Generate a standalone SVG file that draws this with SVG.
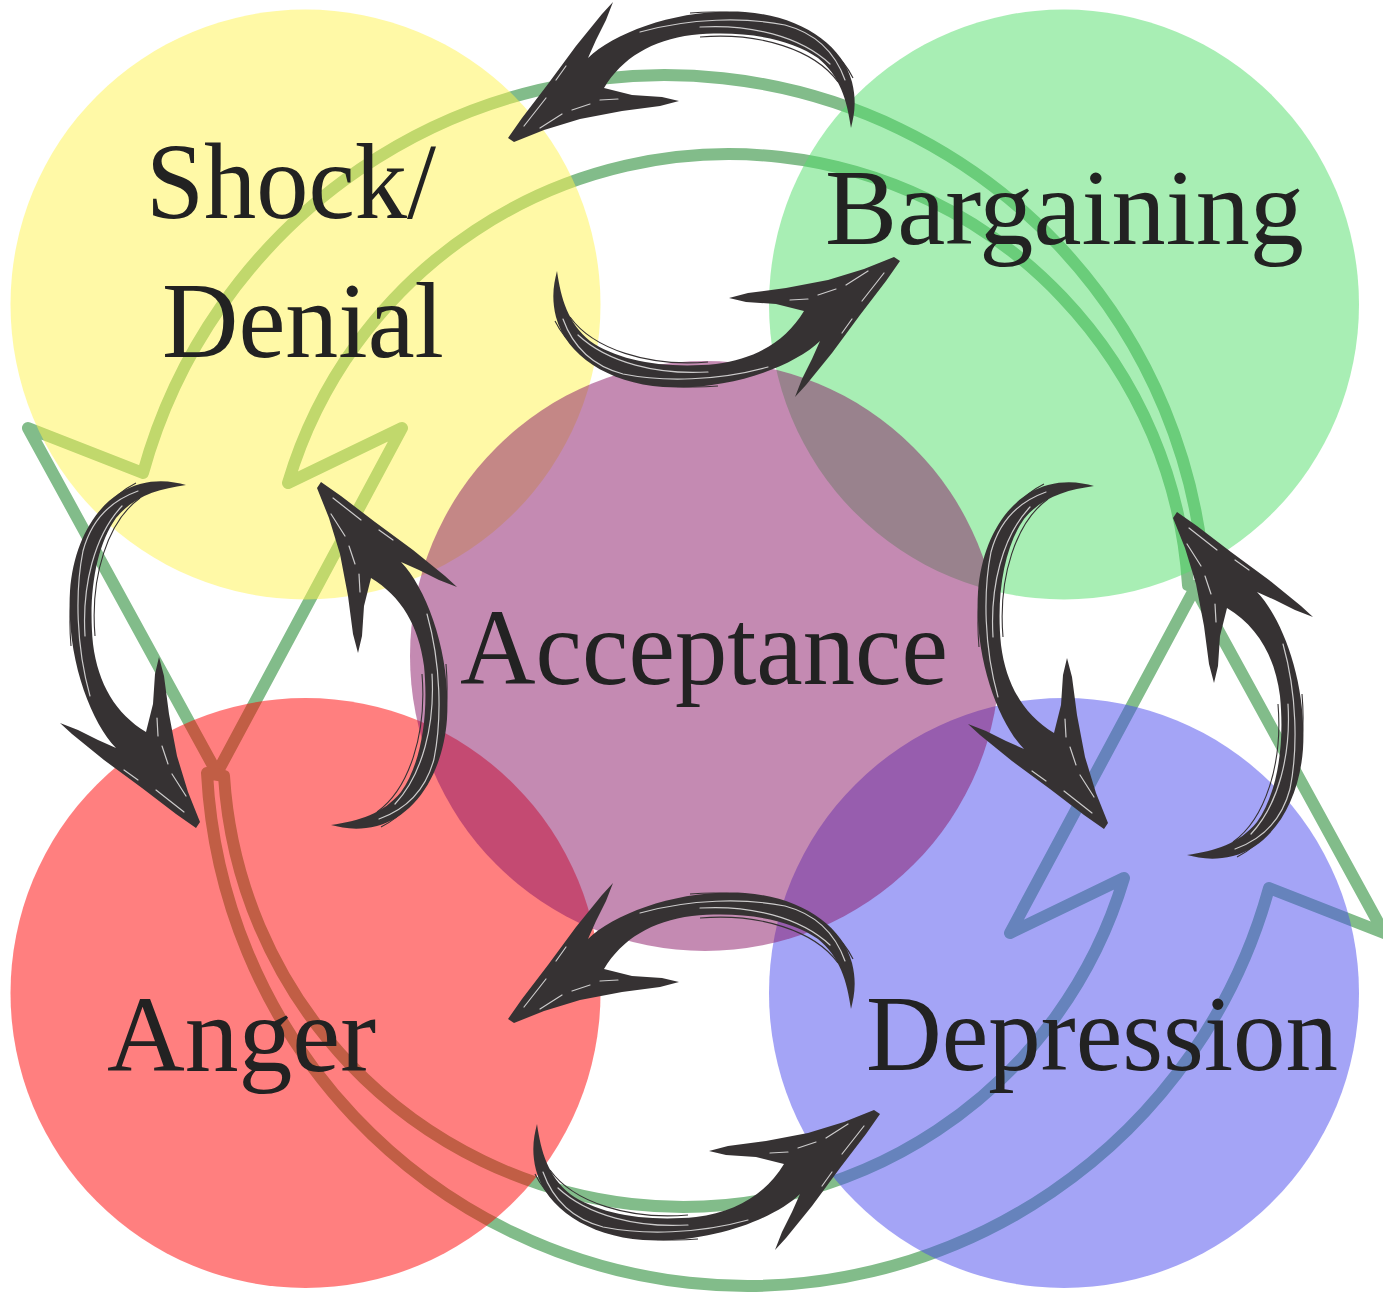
<svg xmlns="http://www.w3.org/2000/svg" width="1383" height="1296" viewBox="0 0 1383 1296">
<style>
.lbl{font-family:"Liberation Serif","Times New Roman",serif;font-size:108px;fill:#222}
.circ{opacity:.5}
.cyc{fill:none;stroke:#82bc8a;stroke-width:12;stroke-linejoin:round;stroke-linecap:round}
.ink{fill:#363233}
.gap{fill:none;stroke:#fff;stroke-width:1.2;opacity:.75;stroke-linecap:round}
.edge{fill:none;stroke:#363233;stroke-width:1.1}
</style>
<defs>
<g id="arr">
<path class="ink" d="M508,138 L522,118 L548,84 L576,46 L602,14 L613,2 L606,20 L596,40 L588,58 C615,32 680,8 745,12 C800,16 842,44 852,82 C857,102 854,116 851,128 C847,100 840,76 818,58 C790,38 742,30 692,35 C652,40 622,58 604,88 L632,95 L662,97 L679,101 L660,106 L622,111 L580,119 L544,130 L514,142 Z"/>
<path class="edge" d="M690,13 C770,6 832,36 853,78"/>
<path class="edge" d="M700,37 C760,32 815,50 838,82"/>
<path class="gap" d="M640,32 C690,18 745,17 785,25 C815,33 835,52 845,80"/>
<path class="gap" d="M700,27 C750,24 800,36 830,64"/>
<path class="gap" d="M524,126 L546,98"/>
<path class="gap" d="M540,128 L562,114"/>
<path class="gap" d="M556,80 L566,66"/>
<path class="gap" d="M600,100 L618,99"/>
<path class="gap" d="M572,110 L590,104"/>
</g>
<path id="cycArrow" d="M28,428 L217,773 L402,428 L288,483 A460,460 0 0 1 1188,585 L1205,588 A541,541 0 0 0 143,473 Z"/>
</defs>
<rect width="1383" height="1296" fill="#fff"/>
<g id="cycle">
<use href="#cycArrow" class="cyc"/>
<use href="#cycArrow" class="cyc" transform="rotate(180,706,680.5)"/>
</g>
<g id="shock-denial">
<circle class="circ" cx="305.5" cy="304.5" r="295" fill="#fff34d"/>
</g>
<g id="bargaining">
<circle class="circ" cx="1064" cy="304.5" r="295" fill="#51dd69"/>
</g>
<g id="anger">
<circle class="circ" cx="305.5" cy="993" r="295" fill="#ff0000"/>
</g>
<g id="depression">
<circle class="circ" cx="1064" cy="993" r="295" fill="#4949ed"/>
</g>
<g id="acceptance">
<circle class="circ" cx="705" cy="656" r="295" fill="#891565"/>
</g>
<g id="labels">
<text class="lbl" x="146" y="218" textLength="290" lengthAdjust="spacingAndGlyphs">Shock/</text>
<text class="lbl" x="162" y="357" textLength="282" lengthAdjust="spacingAndGlyphs">Denial</text>
<text class="lbl" x="825" y="244" textLength="479" lengthAdjust="spacingAndGlyphs">Bargaining</text>
<text class="lbl" x="460" y="684" textLength="488" lengthAdjust="spacingAndGlyphs">Acceptance</text>
<text class="lbl" x="107" y="1071" textLength="269" lengthAdjust="spacingAndGlyphs">Anger</text>
<text class="lbl" x="866" y="1070" textLength="472" lengthAdjust="spacingAndGlyphs">Depression</text>
</g>
<g id="connectors">
<use href="#arr"/>
<use href="#arr" transform="rotate(180,704,199.5)"/>
<use href="#arr" transform="matrix(0,-1,1,0,966,1337)"/>
<use href="#arr" transform="matrix(0,1,-1,0,1315,4)"/>
<use href="#arr" transform="translate(0,881)"/>
<use href="#arr" transform="rotate(180,694,626)"/>
<use href="#arr" transform="matrix(0,-1,1,0,58,1336)"/>
<use href="#arr" transform="matrix(0,1,-1,0,459,-26)"/>
</g>
</svg>
